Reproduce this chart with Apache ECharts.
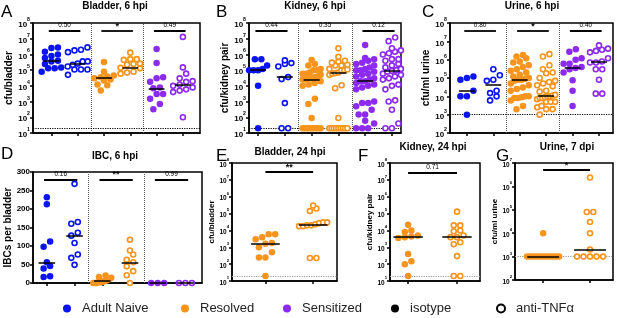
<!DOCTYPE html>
<html>
<head>
<meta charset="utf-8">
<script src="https://cdn.jsdelivr.net/npm/echarts@6/dist/echarts.min.js"></script>
<style>html,body{margin:0;padding:0;background:#fff}#main{width:617px;height:318px}</style>
</head>
<body>
<div id="main"></div>
<script>
// A: Bladder, 6 hpi (cfu/bladder)
var aNaiveIso = [2.8e6, 2.6e6, 1.5e6, 1.0e6, 8e5, 6e5, 4e5, 3.5e5, 2.5e5, 1.5e5, 1.3e5, 1.3e5, 8e4];
var aNaiveAnti = [2.8e6, 2e6, 1.8e6, 1.4e6, 3.6e5, 3.6e5, 2.6e5, 2.2e5, 1.7e5, 1.1e5, 1.1e5, 1.1e5, 5e4];
var aResIso = [3.3e5, 8e4, 4.5e4, 4e4, 3.5e4, 3e4, 2.5e4, 2.2e4, 1.2e4, 1.1e4, 5e3];
var aResAnti = [1.3e6, 5e5, 5e5, 4.5e5, 2.6e5, 2.5e5, 2.2e5, 1.4e5, 1.3e5, 8e4, 7e4, 6e4];
var aSensIso = [2.2e6, 2.8e5, 3.5e4, 3e4, 1.8e4, 8e3, 7e3, 3e3, 3e3, 1.5e3, 700, 330];
var aSensAnti = [1.3e7, 1.5e5, 6e4, 3e4, 2e4, 1.8e4, 1.2e4, 1e4, 8e3, 6e3, 5e3, 4e3, 100];
var aMedians = [4e5, 2.6e5, 3.5e4, 1.35e5, 7e3, 1.1e4];
var aPvals = ['0.50', '*', '0.49'];

// B: Kidney, 6 hpi (cfu/kidney pair)
var bNaiveIso = [5e5, 5e5, 2e5, 1.2e5, 1e5, 1e5, 1e5, 1e4, 20];
var bNaiveAnti = [4.2e5, 2.8e5, 2.5e5, 1.7e5, 3.6e4, 2.7e4, 800, 20, 20];
var bResIso = [4.5e5, 2.5e5, 2e5, 1.2e5, 1e5, 1e5, 7e4, 6e4, 6e4, 5e4, 4e4, 3.5e4, 3e4, 3e4, 2.5e4, 2.5e4,
  2e4, 1.5e4, 1.2e4, 1e4, 1.5e3, 700, 90, 20, 20, 20, 20, 20, 20, 20, 20, 20];
var bResAnti = [2.5e6, 7e5, 4e5, 3.5e5, 3e5, 2.2e5, 2e5, 2e5, 1.2e5, 1.1e5, 1e5, 1e5, 7e4, 6.5e4, 6e4, 5e4,
  1.1e4, 7e3, 90, 20, 20, 20, 20, 20, 20, 20, 20, 20];
var bSensIso = [4e6, 6e5, 5e5, 4e5, 3e5, 2.5e5, 2e5, 1.5e5, 1.2e5, 1e5, 1e5, 8e4, 6e4, 5e4, 4e4, 3e4, 2.5e4,
  2e4, 2e4, 1.5e4, 1.2e4, 1e4, 8e3, 6e3, 1e3, 800, 800, 500, 300, 150, 150, 60, 40, 20, 20, 20];
var bSensAnti = [1.2e7, 7e6, 2.5e6, 1.8e6, 1.5e6, 1.2e6, 1e6, 5e5, 5e5, 4e5, 2.5e5, 2e5, 1.5e5, 1.2e5, 1e5,
  9e4, 8e4, 6e4, 5e4, 4e4, 3e4, 2.5e4, 1.2e4, 1e4, 6e3, 1.2e3, 1e3, 300, 40, 20, 20];
var bMedians = [1.1e5, 3.6e4, 2.5e4, 6.5e4, 2e4, 9e4];
var bPvals = ['0.44', '0.35', '0.12'];

// C: Urine, 6 hpi (cfu/ml urine)
var cNaiveIso = [1.2e5, 1e5, 8e4, 2e4, 1e4, 1e4, 1e3];
var cNaiveAnti = [3e5, 1.4e5, 8e4, 7e4, 2e4, 1.5e4, 1e4, 6e3];
var cResIso = [1.8e6, 1.5e6, 1.2e6, 8e5, 7e5, 5e5, 4e5, 3e5, 2.5e5, 2e5, 1.5e5, 1.2e5, 1e5, 9e4, 8e4, 8e4,
  7e4, 5e4, 4e4, 3e4, 2.5e4, 2e4, 1e4, 1e4, 9e3, 8e3, 8e3, 6e3, 3e3, 2e3];
var cResAnti = [2e6, 1.5e6, 5e5, 3e5, 2e5, 1.8e5, 1e5, 7e4, 6e4, 5e4, 4e4, 3.5e4, 2e4, 1.8e4, 1.2e4, 1.1e4,
  1e4, 1e4, 9e3, 8e3, 8e3, 7e3, 5e3, 5e3, 5e3, 3e3, 2.5e3, 2e3, 2e3, 1e3];
var cSensIso = [3.7e6, 2.7e6, 1.2e6, 1e6, 6e5, 6e5, 4e5, 3.5e5, 3e5, 2e5, 7.5e4, 2e4, 3e3];
var cSensAnti = [6e6, 4e6, 3.5e6, 3e6, 2.5e6, 1.2e6, 8e5, 7e5, 7e5, 3e5, 3e5, 8e4, 1.4e4, 1.4e4];
var cMedians = [2e4, 4.5e4, 8e4, 1.1e4, 3.6e5, 7.5e5];
var cPvals = ['0.80', '*', '0.40'];

// D: IBC, 6 hpi (IBCs per bladder)
var dNaiveIso = [232, 213, 112, 98, 56, 46, 39, 18, 16];
var dNaiveAnti = [268, 165, 160, 136, 128, 108, 77, 68, 49];
var dResIso = [20, 16, 14, 12, 10, 8, 6, 5, 4, 3, 2, 2, 1, 0, 0, 0];
var dResAnti = [117, 88, 77, 63, 56, 45, 32, 21, 0];
var dSensIso = [0, 0, 0];
var dSensAnti = [0, 0, 0];
var dMedians = [56, 128, 5, 56, 0, 0];
var dPvals = ['0.16', '**', '0.99'];

// E: Bladder, 24 hpi
var eResIso = [6e3, 6e3, 4e3, 3e3, 1.8e3, 1.6e3, 1e3, 500, 250, 250, 20];
var eResAnti = [3e5, 2e5, 1.4e5, 3e4, 3e4, 2.7e4, 2.3e4, 2e4, 2e4, 1.8e4, 1.8e4, 230, 230];
var eMedians = [1.6e3, 2.3e4];
var ePvals = ['**'];

// F: Kidney, 24 hpi
var fResIso = [2.2e4, 1e4, 8e3, 5e3, 4.4e3, 4e3, 3.5e3, 400, 150, 100, 20];
var fResAnti = [1.3e5, 2e4, 2e4, 1e4, 9e3, 5e3, 4e3, 4e3, 2e3, 1.5e3, 300, 20, 20];
var fMedians = [4.4e3, 4e3];
var fPvals = ['0.71'];

// G: Urine, 7 dpi
var gResIso = [1e4, 1e3, 1e3, 1e3, 1e3, 1e3, 1e3, 1e3, 1e3, 1e3, 1e3, 1e3, 1e3, 1e3];
var gResAnti = [2.4e6, 8e4, 8e4, 3e4, 1e4, 2e3, 1e3, 1e3, 1e3, 1e3, 1e3];
var gMedians = [1e3, 2e3];
var gPvals = ['*'];

var legendNames = ['Adult Naive', 'Resolved', 'Sensitized', 'isotype', 'anti-TNFα'];

var FONT = '"Liberation Sans Narrow", "Arial Narrow", "Liberation Sans", Arial, sans-serif';
var blue = '#0a14f0', orange = '#f7941d', purple = '#8c2bef';
var six = [blue, blue, orange, orange, purple, purple];
var two = [orange, orange];

var panels = [
  {letter: 'A', title: 'Bladder, 6 hpi', yName: 'cfu/bladder', groups: [aNaiveIso, aNaiveAnti, aResIso, aResAnti, aSensIso, aSensAnti],
    medians: aMedians, pvals: aPvals, colors: six, left: 33, top: 23, width: 167, height: 110, xmin: 0.3, xmax: 6.65,
    log: true, ymin: 10, ymax: 1e8, lod: 20, lodColor: '#000', sigY: 3.2e7, half: 10, medHalf: 0.3, nameGap: 18,
    tickFont: 8, nameFont: 10, titleX: 115, titleY: 1, letterX: 1, letterY: 4},
  {letter: 'B', title: 'Kidney, 6 hpi', yName: 'cfu/kidney pair', groups: [bNaiveIso, bNaiveAnti, bResIso, bResAnti, bSensIso, bSensAnti],
    medians: bMedians, pvals: bPvals, colors: six, left: 249, top: 23, width: 152, height: 110, xmin: 0.66, xmax: 6.34,
    log: true, ymin: 10, ymax: 1e8, lod: 20, lodColor: '#000', sigY: 3.2e7, half: 9, medHalf: 0.3, nameGap: 18,
    tickFont: 8, nameFont: 10, titleX: 315, titleY: 1, letterX: 216, letterY: 4},
  {letter: 'C', title: 'Urine, 6 hpi', yName: 'cfu/ml urine', groups: [cNaiveIso, cNaiveAnti, cResIso, cResAnti, cSensIso, cSensAnti],
    medians: cMedians, pvals: cPvals, colors: six, left: 450, top: 23, width: 163, height: 110, xmin: 0.36, xmax: 6.53,
    log: true, ymin: 100, ymax: 1e8, lod: 1000, lodColor: '#000', sigY: 3.8e7, half: 9, medHalf: 0.3, nameGap: 14,
    tickFont: 8, nameFont: 10, titleX: 532, titleY: 1, letterX: 422, letterY: 4},
  {letter: 'D', title: 'IBC, 6 hpi', yName: 'IBCs per bladder', groups: [dNaiveIso, dNaiveAnti, dResIso, dResAnti, dSensIso, dSensAnti],
    medians: dMedians, pvals: dPvals, colors: six, left: 33, top: 172, width: 169, height: 111, xmin: 0.5, xmax: 6.6,
    log: false, ymin: 0, ymax: 300, lod: null, sigY: 280, half: 9, medHalf: 0.3, nameGap: 18,
    tickFont: 8, nameFont: 10, titleX: 115, titleY: 151, letterX: 1, letterY: 146},
  {letter: 'E', title: 'Bladder, 24 hpi', yName: 'cfu/bladder', groups: [eResIso, eResAnti],
    medians: eMedians, pvals: ePvals, colors: two, left: 232, top: 163, width: 105, height: 118, xmin: 0.3, xmax: 2.5,
    log: true, ymin: 10, ymax: 1e8, lod: 20, lodColor: '#999', sigY: 3e7, half: 14, medHalf: 0.3, nameGap: 8,
    tickFont: 6.5, nameFont: 8, titleX: 290, titleY: 147, letterX: 216, letterY: 148},
  {letter: 'F', title: 'Kidney, 24 hpi', yName: 'cfu/kidney pair', groups: [fResIso, fResAnti],
    medians: fMedians, pvals: fPvals, colors: two, left: 390, top: 163, width: 90, height: 118, xmin: 0.63, xmax: 2.47,
    log: true, ymin: 10, ymax: 1e8, lod: 20, lodColor: '#999', sigY: 2.6e7, half: 12, medHalf: 0.3, nameGap: 8,
    tickFont: 6.5, nameFont: 8, titleX: 433, titleY: 142, letterX: 358, letterY: 148},
  {letter: 'G', title: 'Urine, 7 dpi', yName: 'cfu/ml urine', groups: [gResIso, gResAnti],
    medians: gMedians, pvals: gPvals, colors: two, left: 515, top: 163, width: 98, height: 117, xmin: 0.4, xmax: 2.49,
    log: true, ymin: 100, ymax: 1e7, lod: 1000, lodColor: '#999', sigY: 5e6, half: 16, medHalf: 0.34, nameGap: 10,
    tickFont: 6.5, nameFont: 8, titleX: 567, titleY: 142, letterX: 496, letterY: 148}
];

function yPx(p, v) {
  if (p.log) {
    return (Math.log10(v) - Math.log10(p.ymin)) / (Math.log10(p.ymax) - Math.log10(p.ymin)) * p.height;
  }
  return (v - p.ymin) / (p.ymax - p.ymin) * p.height;
}

// prism-like spread: points close in y share a row, centred on the group
function spread(vals, center, p) {
  var d = 6.5;
  var xPx = p.width / (p.xmax - p.xmin);
  var pts = vals.map(function (v) { return {v: v, py: yPx(p, v)}; });
  pts.sort(function (a, b) { return a.py - b.py; });
  var out = [], bin = [];
  function flush() {
    var n = bin.length;
    var step = n > 1 ? Math.min(d, 2 * p.half / (n - 1)) : 0;
    bin.forEach(function (q, i) {
      out.push([center + (i - (n - 1) / 2) * step / xPx, q.v]);
    });
    bin = [];
  }
  pts.forEach(function (q) {
    if (bin.length && q.py - bin[0].py > d * 0.85) flush();
    bin.push(q);
  });
  flush();
  return out;
}

function decades(lo, hi) {
  var out = [];
  for (var v = lo; v <= hi * 1.001; v *= 10) out.push(v);
  return out;
}

var grids = [], xAxes = [], yAxes = [], series = [], titles = [];

panels.forEach(function (p, k) {
  grids.push({left: p.left, top: p.top, width: p.width, height: p.height, show: true,
    borderColor: '#000', borderWidth: 1.5, outerBoundsMode: 'none'});
  var ticks = p.groups.map(function (g, i) { return i + 1; });
  xAxes.push({gridIndex: k, type: 'value', min: p.xmin, max: p.xmax,
    axisLine: {onZero: false, lineStyle: {color: '#000', width: 1.5}},
    axisTick: {customValues: ticks, length: 3, lineStyle: {color: '#000', width: 1.5}},
    axisLabel: {show: false}, splitLine: {show: false}});

  var yAxis = {gridIndex: k, min: p.ymin, max: p.ymax,
    name: p.yName, nameLocation: 'middle', nameGap: p.nameGap,
    nameTextStyle: {fontFamily: FONT, fontWeight: 'bold', fontSize: p.nameFont, color: '#000'},
    axisLine: {onZero: false, lineStyle: {color: '#000', width: 1.5}},
    splitLine: {show: false}};
  if (p.log) {
    var dec = decades(p.ymin, p.ymax);
    yAxis.type = 'log';
    yAxis.logBase = 10;
    yAxis.axisTick = {customValues: dec, length: 3, lineStyle: {color: '#000', width: 1.5}};
    yAxis.axisLabel = {customValues: dec, margin: 3,
      formatter: function (v) { return '{b|10}{s|' + Math.round(Math.log10(v)) + '}'; },
      rich: {
        b: {fontFamily: FONT, fontWeight: 'bold', fontSize: p.tickFont, color: '#000', lineHeight: p.tickFont + 4, verticalAlign: 'bottom'},
        s: {fontFamily: FONT, fontWeight: 'bold', fontSize: p.tickFont * 0.65, color: '#000', lineHeight: 6, verticalAlign: 'top'}
      }};
  } else {
    yAxis.type = 'value';
    yAxis.interval = 50;
    yAxis.axisTick = {length: 3, lineStyle: {color: '#000', width: 1.5}};
    yAxis.axisLabel = {margin: 3, fontFamily: FONT, fontWeight: 'bold', fontSize: p.tickFont, color: '#000'};
  }
  yAxes.push(yAxis);

  p.groups.forEach(function (vals, i) {
    var col = p.colors[i], open = i % 2 === 1;
    series.push({type: 'scatter', xAxisIndex: k, yAxisIndex: k, silent: true,
      data: spread(vals, i + 1, p), symbol: 'circle', symbolSize: open ? 5 : 6.5,
      itemStyle: open ? {color: '#fff', borderColor: col, borderWidth: 1.6, opacity: 1} : {color: col, opacity: 1},
      markLine: {silent: true, symbol: ['none', 'none'], label: {show: false},
        lineStyle: {color: '#000', width: 1.5, type: 'solid'},
        data: [[{coord: [i + 1 - p.medHalf, p.medians[i]]}, {coord: [i + 1 + p.medHalf, p.medians[i]]}]]}});
  });

  // separators, detection limit and significance bars
  var marks = [];
  if (p.groups.length === 6) {
    [2.5, 4.5].forEach(function (x) {
      marks.push({xAxis: x, lineStyle: {type: 'dotted', color: '#555', width: 1}});
    });
  }
  if (p.lod !== null) {
    marks.push({yAxis: p.lod, lineStyle: {type: 'dotted', color: p.lodColor, width: 1.2}});
  }
  p.pvals.forEach(function (txt, j) {
    var star = txt.indexOf('*') >= 0;
    var a = 2 * j + 1, b = 2 * j + 2;
    var pad = p.groups.length === 6 ? 0.1 : 0;
    marks.push([
      {coord: [a - pad, p.sigY], name: txt, lineStyle: {type: 'solid', color: '#000', width: 1.8},
        label: {show: true, position: 'insideMiddleTop', distance: star ? 0 : 2, formatter: txt, fontFamily: FONT,
          fontSize: star ? 9 : 6.5, fontWeight: star ? 'bold' : 'normal', color: '#000'}},
      {coord: [b + pad, p.sigY]}
    ]);
  });
  series.push({type: 'scatter', xAxisIndex: k, yAxisIndex: k, data: [], silent: true,
    markLine: {silent: true, symbol: ['none', 'none'], z: 1, label: {show: false}, data: marks}});

  titles.push({text: p.title, left: p.titleX, top: p.titleY, textAlign: 'center', padding: 0,
    textStyle: {fontFamily: FONT, fontWeight: 'bold', fontSize: 10, color: '#000'}});
  titles.push({text: p.letter, left: p.letterX, top: p.letterY, padding: 0,
    textStyle: {fontFamily: FONT, fontWeight: 'normal', fontSize: 17, color: '#000'}});
});

// legend entries
var legendColors = [blue, orange, purple, '#000', '#fff'];
var legendLeft = [58, 176, 278, 386, 491];
var legends = [];
legendNames.forEach(function (name, i) {
  var style = i === 4 ? {color: '#fff', borderColor: '#000', borderWidth: 2, opacity: 1} : {color: legendColors[i], opacity: 1};
  series.push({type: 'scatter', name: name, xAxisIndex: 0, yAxisIndex: 0, data: [], itemStyle: style});
  legends.push({data: [{name: name, icon: 'circle', itemStyle: style}], left: legendLeft[i], top: 297,
    itemWidth: 8, itemHeight: 8, selectedMode: false,
    textStyle: {fontFamily: FONT, fontSize: 13, color: '#222', padding: [0, 0, 0, 6]}});
});

var myChart = echarts.init(document.getElementById('main'));
myChart.setOption({
  animation: false,
  backgroundColor: '#fff',
  title: titles,
  legend: legends,
  grid: grids,
  xAxis: xAxes,
  yAxis: yAxes,
  series: series
});
</script>
</body>
</html>
